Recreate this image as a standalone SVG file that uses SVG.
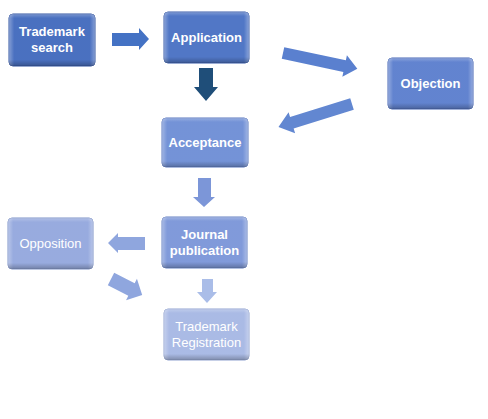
<svg xmlns="http://www.w3.org/2000/svg" width="488" height="419" viewBox="0 0 488 419">
<defs>
<linearGradient id="bevelH" x1="0" y1="0" x2="1" y2="0">
<stop offset="0" stop-color="#fff" stop-opacity="0.35"/>
<stop offset="0.06" stop-color="#fff" stop-opacity="0.05"/>
<stop offset="0.94" stop-color="#fff" stop-opacity="0.05"/>
<stop offset="1" stop-color="#fff" stop-opacity="0.35"/>
</linearGradient>
<linearGradient id="bevelV" x1="0" y1="0" x2="0" y2="1">
<stop offset="0" stop-color="#fff" stop-opacity="0.25"/>
<stop offset="0.08" stop-color="#fff" stop-opacity="0"/>
<stop offset="0.88" stop-color="#000" stop-opacity="0"/>
<stop offset="1" stop-color="#000" stop-opacity="0.25"/>
</linearGradient>
</defs>
<style>
.box{stroke-width:1}
.bh{fill:url(#bevelH)}
.bv{fill:url(#bevelV)}
.tb{font-family:"Liberation Sans",Arial,sans-serif;font-weight:bold;font-size:13px;fill:#fff;text-anchor:middle}
.tr{font-family:"Liberation Sans",Arial,sans-serif;font-size:13px;fill:#fff;text-anchor:middle}
</style>
<g id="connectors">
<polygon fill="#4472c4" points="112,33 139,33 139,28 149,39 139,50 139,46 112,46"/>
<polygon fill="#1f4e79" points="199,68 213,68 213,87 218,87 206,101 194,87 199,87"/>
<polygon fill="#5a80cf" transform="translate(283,53) rotate(12)" points="0,-6 63,-6 63,-11 76,0 63,11 63,6 0,6"/>
<polygon fill="#6287d1" transform="translate(352,104) rotate(162.7)" points="0,-6 63,-6 63,-11 77,0 63,11 63,6 0,6"/>
<polygon fill="#7c96d8" points="198,178 211,178 211,197 215,197 204,207 193,197 198,197"/>
<polygon fill="#8fa6de" points="145,237 118,237 118,233 108,243 118,253 118,250 145,250"/>
<polygon fill="#8fa6de" transform="translate(111,279) rotate(27)" points="0,-7 23,-7 23,-12 35,0 23,12 23,7 0,7"/>
<polygon fill="#aabde8" points="202,279 213,279 213,292 217,292 207,303 197,292 202,292"/>
</g>
<g id="trademark-search">
<rect class="box" x="9" y="14" width="86" height="52" rx="4" fill="#4169bd" stroke="#2f52a0"/>
<rect x="9" y="14" width="86" height="52" rx="4" class="bh"/>
<rect x="9" y="14" width="86" height="52" rx="4" class="bv"/>
<text class="tb" x="52" y="36">Trademark</text>
<text class="tb" x="52" y="52">search</text>
</g>
<g id="application">
<rect class="box" x="164" y="12" width="85" height="51" rx="4" fill="#4870c3" stroke="#3459a8"/>
<rect x="164" y="12" width="85" height="51" rx="4" class="bh"/>
<rect x="164" y="12" width="85" height="51" rx="4" class="bv"/>
<text class="tb" x="206.5" y="42">Application</text>
</g>
<g id="objection">
<rect class="box" x="388" y="58" width="85" height="51" rx="4" fill="#5a7dcd" stroke="#4465b4"/>
<rect x="388" y="58" width="85" height="51" rx="4" class="bh"/>
<rect x="388" y="58" width="85" height="51" rx="4" class="bv"/>
<text class="tb" x="430.5" y="88">Objection</text>
</g>
<g id="acceptance">
<rect class="box" x="162" y="118" width="86" height="49" rx="4" fill="#6d8dd5" stroke="#5877be"/>
<rect x="162" y="118" width="86" height="49" rx="4" class="bh"/>
<rect x="162" y="118" width="86" height="49" rx="4" class="bv"/>
<text class="tb" x="205" y="147">Acceptance</text>
</g>
<g id="journal-publication">
<rect class="box" x="162" y="217" width="85" height="51" rx="4" fill="#7a95d8" stroke="#6580c2"/>
<rect x="162" y="217" width="85" height="51" rx="4" class="bh"/>
<rect x="162" y="217" width="85" height="51" rx="4" class="bv"/>
<text class="tb" x="204.5" y="239">Journal</text>
<text class="tb" x="204.5" y="255">publication</text>
</g>
<g id="opposition">
<rect class="box" x="8" y="218" width="85" height="51" rx="4" fill="#93a7dd" stroke="#7d92c8"/>
<rect x="8" y="218" width="85" height="51" rx="4" class="bh"/>
<rect x="8" y="218" width="85" height="51" rx="4" class="bv"/>
<text class="tr" x="50.5" y="248">Opposition</text>
</g>
<g id="trademark-registration">
<rect class="box" x="164" y="309" width="85" height="51" rx="4" fill="#a6b7e4" stroke="#90a2d0"/>
<rect x="164" y="309" width="85" height="51" rx="4" class="bh"/>
<rect x="164" y="309" width="85" height="51" rx="4" class="bv"/>
<text class="tr" x="206.5" y="331">Trademark</text>
<text class="tr" x="206.5" y="347">Registration</text>
</g>
</svg>
